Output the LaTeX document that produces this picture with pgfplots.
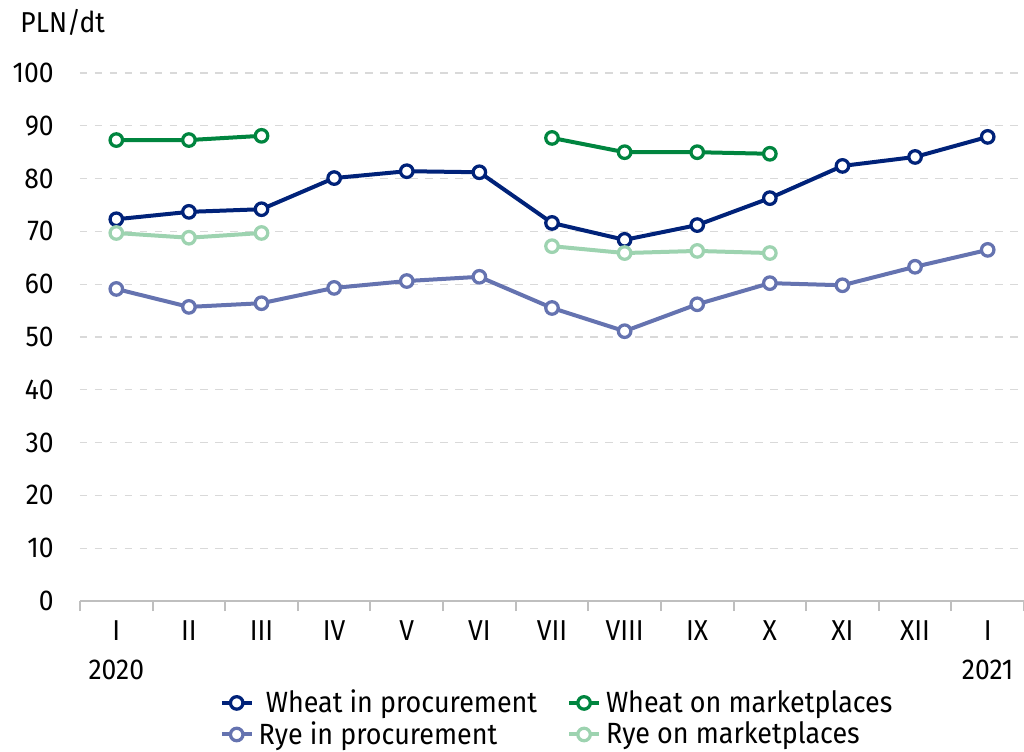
\documentclass[border=0pt]{standalone}
\usepackage{fontspec}
\setmainfont{Fira Sans}[FakeStretch=0.92]
\usepackage{pgfplots}
\pgfplotsset{compat=1.18}
\definecolor{wheatP}{HTML}{002279}
\definecolor{wheatM}{HTML}{00853F}
\definecolor{ryeP}{HTML}{6573B0}
\definecolor{ryeM}{HTML}{9DD3B0}
\definecolor{gridc}{HTML}{D9D9D9}
\definecolor{axisc}{HTML}{BFBFBF}
\begin{document}
\begin{tikzpicture}[x=1pt,y=1pt]
\useasboundingbox (0,0) rectangle (409.6,300.4);
\begin{axis}[
  at={(32pt,60pt)}, anchor=south west,
  width=377.6pt, height=211.2pt, scale only axis,
  xmin=-0.5, xmax=12.5, ymin=0, ymax=100,
  axis lines*=left, separate axis lines,
  axis line style={-},
  y axis line style={draw=none},
  x axis line style={draw=axisc, line width=1pt},
  xtick={0,...,12},
  xticklabels={{I\\2020},II,III,IV,V,VI,VII,VIII,IX,X,XI,XII,{I\\2021}},
  minor xtick={-0.5,0.5,...,12.5},
  major tick length=0pt,
  minor tick length=4pt,
  tick align=outside,
  minor tick style={draw=axisc, line width=0.8pt},
  ytick={0,10,...,100},
  ymajorgrids,
  major grid style={draw=gridc, dashed, line width=0.5pt},
  /pgf/number format/assume math mode=true,
  tick label style={font=\fontsize{11.5}{14.4}\selectfont},
  xticklabel style={align=center, anchor=north, yshift=-4.5pt, font=\fontsize{11.5}{15.6}\selectfont},
  yticklabel style={anchor=east, xshift=-7pt},
  unbounded coords=jump,
  every axis plot/.append style={line width=1.6pt, mark=*, mark size=2.5pt,
     mark options={fill=white, line width=1.3pt}},
  legend columns=2,
  legend style={draw=none, fill=none, at={(0.507,-0.148)}, anchor=north,
     font=\fontsize{11.7}{13}\selectfont,
     row sep=-2pt,
     /tikz/every even column/.append style={column sep=10pt}},
  legend cell align=left,
  legend image code/.code={\draw[#1,mark repeat=2,mark phase=2] plot coordinates {(0cm,0cm) (0.21cm,0cm) (0.42cm,0cm)};},
]
\addplot[color=wheatP] coordinates {(0,72.3) (1,73.7) (2,74.2) (3,80.1) (4,81.4) (5,81.2) (6,71.6) (7,68.4) (8,71.2) (9,76.3) (10,82.4) (11,84.1) (12,87.9)};
\addlegendentry{\ Wheat in procurement}
\addplot[color=wheatM] coordinates {(0,87.3) (1,87.3) (2,88.1) (3,nan) (4,nan) (5,nan) (6,87.7) (7,85.0) (8,85.0) (9,84.7)};
\addlegendentry{Wheat on marketplaces}
\addplot[color=ryeP] coordinates {(0,59.1) (1,55.7) (2,56.4) (3,59.3) (4,60.6) (5,61.4) (6,55.5) (7,51.1) (8,56.2) (9,60.2) (10,59.8) (11,63.3) (12,66.5)};
\addlegendentry{Rye in procurement}
\addplot[color=ryeM] coordinates {(0,69.7) (1,68.8) (2,69.7) (3,nan) (4,nan) (5,nan) (6,67.2) (7,65.9) (8,66.3) (9,65.9)};
\addlegendentry{Rye on marketplaces}
\end{axis}
\node[anchor=west, inner sep=0pt, font=\fontsize{11.5}{13}\selectfont] at (8pt,291.6pt) {PLN/dt};
\end{tikzpicture}
\end{document}
